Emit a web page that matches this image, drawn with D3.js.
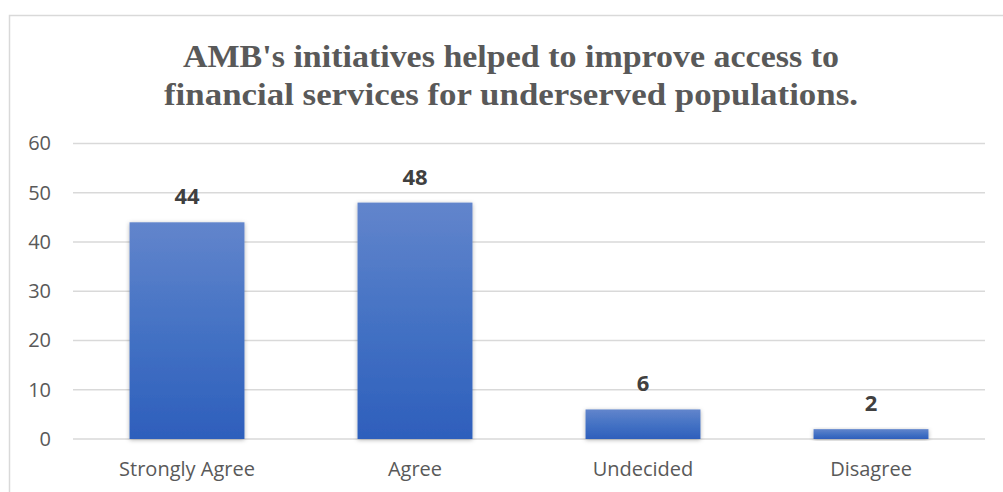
<!DOCTYPE html>
<html>
<head>
<meta charset="utf-8">
<script src="https://cdn.jsdelivr.net/npm/d3@7"></script>
<style>
  body{margin:0;background:#fff;}
  svg{display:block;}
</style>
</head>
<body>
<div id="chart"></div>
<script>
const categories = ["Strongly Agree","Agree","Undecided","Disagree"];
const values = [44,48,6,2];
const yTicks = [0,10,20,30,40,50,60];
const titleLines = ["AMB's initiatives helped to improve access to","financial services for underserved populations."];

const w=1003, h=492;
const plot = {left:73, right:985, top:143.5, bottom:439};

const svg = d3.select("#chart").append("svg")
    .attr("width",w)
    .attr("height",h);

//gradient + shadow for bars
const defs = svg.append("defs");
const grad = defs.append("linearGradient")
    .attr("id","barGrad")
    .attr("x1",0).attr("y1",0).attr("x2",0).attr("y2",1);
grad.append("stop").attr("offset","0%").attr("stop-color","#6285cc");
grad.append("stop").attr("offset","50%").attr("stop-color","#4472c4");
grad.append("stop").attr("offset","100%").attr("stop-color","#2e5fbc");

const shadow = defs.append("filter")
    .attr("id","shadow")
    .attr("x","-10%").attr("y","-20%").attr("width","120%").attr("height","140%");
shadow.append("feDropShadow")
    .attr("dx",0).attr("dy",1)
    .attr("stdDeviation",2)
    .attr("flood-color","#000")
    .attr("flood-opacity",0.3);

//chart area border
svg.append("rect")
    .attr("x",9.5).attr("y",15.5)
    .attr("width",1010).attr("height",500)
    .attr("fill","none")
    .attr("stroke","#d9d9d9")
    .attr("stroke-width",1.5);

//title
const titleWidths = [656,694];
svg.append("g").selectAll("text")
    .data(titleLines)
    .enter()
    .append("text")
    .attr("x",511)
    .attr("y",(d,i)=>67+i*38)
    .attr("text-anchor","middle")
    .attr("textLength",(d,i)=>titleWidths[i])
    .attr("lengthAdjust","spacingAndGlyphs")
    .style("font-family","'Liberation Serif', serif")
    .style("font-weight","bold")
    .style("font-size","31px")
    .style("fill","#595959")
    .text(d=>d);

const xScale = d3.scaleBand()
    .domain(categories)
    .range([plot.left,plot.right])
    .paddingInner(0.496)
    .paddingOuter(0.248);

const yScale = d3.scaleLinear()
    .domain([0,60])
    .range([plot.bottom,plot.top]);

//gridlines
svg.append("g")
    .selectAll("line")
    .data(yTicks)
    .enter()
    .append("line")
    .attr("x1",plot.left)
    .attr("x2",plot.right)
    .attr("y1",d=>yScale(d))
    .attr("y2",d=>yScale(d))
    .attr("stroke","#d9d9d9")
    .attr("stroke-width",1.5);

//y axis
const yAxis = d3.axisLeft(yScale)
    .tickValues(yTicks)
    .tickSize(0)
    .tickPadding(0);
svg.append("g")
    .attr("transform","translate(51,0)")
    .call(yAxis)
    .call(g=>g.select(".domain").remove())
    .selectAll("text")
    .style("font-family","'Open Sans', sans-serif")
    .style("font-size","20px")
    .style("fill","#595959");

//x axis
const xAxis = d3.axisBottom(xScale)
    .tickSize(0)
    .tickPadding(0);
svg.append("g")
    .attr("transform","translate(0,"+(plot.bottom+23)+")")
    .call(xAxis)
    .call(g=>g.select(".domain").remove())
    .selectAll("text")
    .style("font-family","'Open Sans', sans-serif")
    .style("font-size","20px")
    .style("fill","#595959");

//bars
svg.append("g")
    .selectAll("rect")
    .data(values)
    .enter()
    .append("rect")
    .attr("x",(d,i)=>xScale(categories[i]))
    .attr("y",d=>yScale(d))
    .attr("width",xScale.bandwidth())
    .attr("height",d=>plot.bottom-yScale(d))
    .attr("fill","url(#barGrad)")
    .attr("filter","url(#shadow)");

//data labels
svg.append("g")
    .selectAll("text")
    .data(values)
    .enter()
    .append("text")
    .attr("x",(d,i)=>xScale(categories[i])+xScale.bandwidth()/2)
    .attr("y",d=>yScale(d)-18)
    .attr("text-anchor","middle")
    .style("font-family","'Open Sans', sans-serif")
    .style("font-weight","bold")
    .style("font-size","22px")
    .style("fill","#404040")
    .text(d=>d);
</script>
</body>
</html>
